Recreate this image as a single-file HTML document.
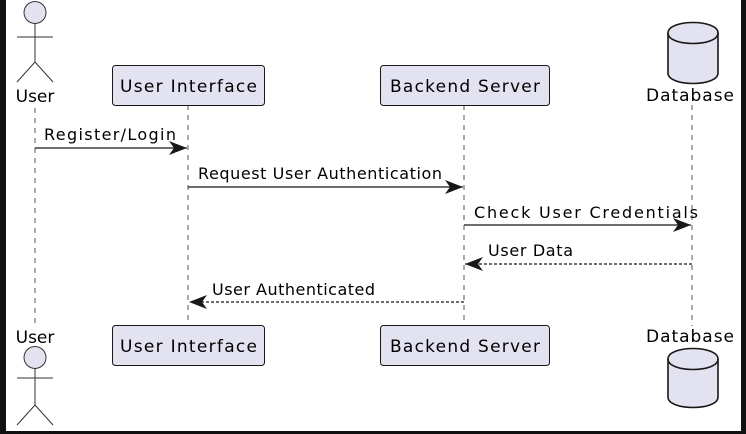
<!DOCTYPE html>
<html><head><meta charset="utf-8"><style>
html,body{margin:0;padding:0;background:#000;}
svg{display:block;}
text{font-family:"DejaVu Sans","Liberation Sans",sans-serif;fill:#000;}
</style></head><body>
<svg width="746" height="434" viewBox="0 0 746 434" xmlns="http://www.w3.org/2000/svg">
<rect x="0" y="0" width="746" height="434" fill="#111"/>
<rect x="6" y="0" width="735" height="431" fill="#fff"/>
<defs>
<marker id="a" markerWidth="20" markerHeight="14" refX="18" refY="7" orient="auto" markerUnits="userSpaceOnUse">
<path d="M0,0 L18,7 L0,14 L5,7 Z" fill="#181818"/>
</marker>
</defs>
<g stroke="#555" stroke-width="1" stroke-dasharray="5,5" fill="none">
<line x1="35" y1="108" x2="35" y2="326"/>
<line x1="188" y1="105" x2="188" y2="325"/>
<line x1="464" y1="105" x2="464" y2="325"/>
<line x1="692" y1="105" x2="692" y2="326"/>
</g>
<g stroke="#333" stroke-width="1" fill="#e2e2f0">
<circle cx="35" cy="12.5" r="11"/>
<line x1="35" y1="23.5" x2="35" y2="62"/>
<line x1="17" y1="37" x2="53" y2="37"/>
<polyline points="17,82 35,62 53,82" fill="none"/>
</g>
<text x="35" y="102" font-size="17" text-anchor="middle">User</text>
<text x="35" y="343" font-size="17" text-anchor="middle">User</text>
<g stroke="#333" stroke-width="1" fill="#e2e2f0">
<circle cx="35" cy="357.5" r="11"/>
<line x1="35" y1="368.5" x2="35" y2="405"/>
<line x1="17" y1="378" x2="53" y2="378"/>
<polyline points="17,425 35,405 53,425" fill="none"/>
</g>
<g stroke="#181818" stroke-width="1" fill="#e2e2f0">
<rect x="112.5" y="65.5" width="152" height="40" rx="3"/>
<rect x="380.5" y="65.5" width="169" height="40" rx="3"/>
<rect x="112.5" y="325.5" width="152" height="40" rx="3"/>
<rect x="380.5" y="325.5" width="169" height="40" rx="3"/>
</g>
<g font-size="17" text-anchor="middle">
<text x="188.5" y="92" textLength="137">User Interface</text>
<text x="465" y="92" textLength="150">Backend Server</text>
<text x="188.5" y="352" textLength="137">User Interface</text>
<text x="465" y="352" textLength="150">Backend Server</text>
<text x="690" y="101" textLength="88">Database</text>
<text x="690" y="342" textLength="88">Database</text>
</g>
<g stroke="#181818" stroke-width="1.6" fill="#e2e2f0">
<path d="M668,33 C668,19 718,19 718,33 L718,73 C718,87 668,87 668,73 Z"/>
<path d="M668,33 C668,47 718,47 718,33" fill="none"/>
<path d="M668,359 C668,345 718,345 718,359 L718,397 C718,411 668,411 668,397 Z"/>
<path d="M668,359 C668,373 718,373 718,359" fill="none"/>
</g>
<g stroke="#181818" stroke-width="1.3" fill="none">
<line x1="35" y1="148" x2="187" y2="148" marker-end="url(#a)"/>
<line x1="188" y1="187" x2="463" y2="187" marker-end="url(#a)"/>
<line x1="464" y1="225" x2="691" y2="225" marker-end="url(#a)"/>
<line x1="692" y1="264" x2="465" y2="264" stroke-dasharray="3,2" marker-end="url(#a)"/>
<line x1="464" y1="302" x2="189" y2="302" stroke-dasharray="3,2" marker-end="url(#a)"/>
</g>
<g font-size="16">
<text x="44" y="140" textLength="132">Register/Login</text>
<text x="198" y="179" textLength="244">Request User Authentication</text>
<text x="474" y="218" textLength="224">Check User Credentials</text>
<text x="488" y="256" textLength="85">User Data</text>
<text x="212" y="295" textLength="163">User Authenticated</text>
</g>
</svg>
</body></html>
